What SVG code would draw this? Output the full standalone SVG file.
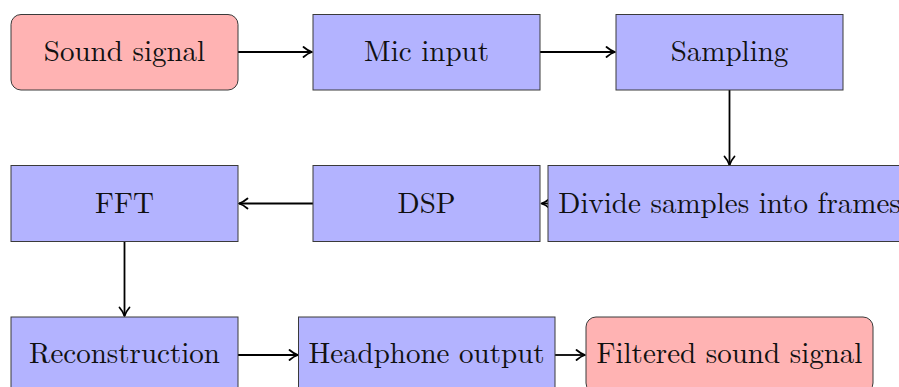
<svg xmlns="http://www.w3.org/2000/svg" width="899" height="387" viewBox="0 0 899 387">
<style>
.node rect{stroke:#3a3a3a;stroke-width:1}
.blue rect{fill:#b3b3ff}
.pink rect{fill:#ffb3b3}
.node text{font-size:29px;fill:#111;text-anchor:middle}
.conn line{stroke:#000;stroke-width:1.8;fill:none}
</style>
<defs>
<marker id="arr" markerUnits="userSpaceOnUse" markerWidth="14" markerHeight="14" viewBox="-10 -7 12 14" refX="0" refY="0" orient="auto">
<path d="M -8.5 -5 C -5.5 -2.4 -2 -0.6 0 0 C -2 0.6 -5.5 2.4 -8.5 5" fill="none" stroke="#000" stroke-width="1.8" stroke-linecap="round" stroke-linejoin="round"/>
</marker>
</defs>
<rect width="899" height="387" fill="#fff"/>
<g class="conn">
<line x1="238" y1="52" x2="312" y2="52" marker-end="url(#arr)"/>
<line x1="540" y1="52" x2="615" y2="52" marker-end="url(#arr)"/>
<line x1="729.5" y1="90" x2="729.5" y2="165" marker-end="url(#arr)"/>
<line x1="548" y1="203.5" x2="541.5" y2="203.5" marker-end="url(#arr)"/>
<line x1="313" y1="203.5" x2="239" y2="203.5" marker-end="url(#arr)"/>
<line x1="124.5" y1="241" x2="124.5" y2="316" marker-end="url(#arr)"/>
<line x1="238" y1="355" x2="298" y2="355" marker-end="url(#arr)"/>
<line x1="555" y1="355" x2="585" y2="355" marker-end="url(#arr)"/>
</g>
<g font-family="Latin Modern Roman, Liberation Serif, serif">
<g id="sound-signal" class="node pink"><rect x="11" y="14.5" width="227" height="75.5" rx="10"/><text x="124.5" y="61">Sound signal</text></g>
<g id="mic-input" class="node blue"><rect x="313" y="14.5" width="227" height="75.5"/><text x="426.5" y="61">Mic input</text></g>
<g id="sampling" class="node blue"><rect x="616" y="14.5" width="227" height="75.5"/><text x="729.5" y="61">Sampling</text></g>
<g id="divide" class="node blue"><rect x="548" y="165.5" width="363" height="76"/><text x="729.5" y="212.5">Divide samples into frames</text></g>
<g id="dsp" class="node blue"><rect x="313" y="165.5" width="227" height="76"/><text x="426.5" y="212.5">DSP</text></g>
<g id="fft" class="node blue"><rect x="11" y="165.5" width="227" height="76"/><text x="124.5" y="212.5">FFT</text></g>
<g id="reconstruction" class="node blue"><rect x="11" y="317" width="227" height="76"/><text x="124.5" y="362.5">Reconstruction</text></g>
<g id="headphone" class="node blue"><rect x="298.5" y="317" width="256.5" height="76"/><text x="426.5" y="362.5">Headphone output</text></g>
<g id="filtered" class="node pink"><rect x="586" y="317" width="287" height="76" rx="10"/><text x="729.5" y="362.5">Filtered sound signal</text></g>
</g>
</svg>
